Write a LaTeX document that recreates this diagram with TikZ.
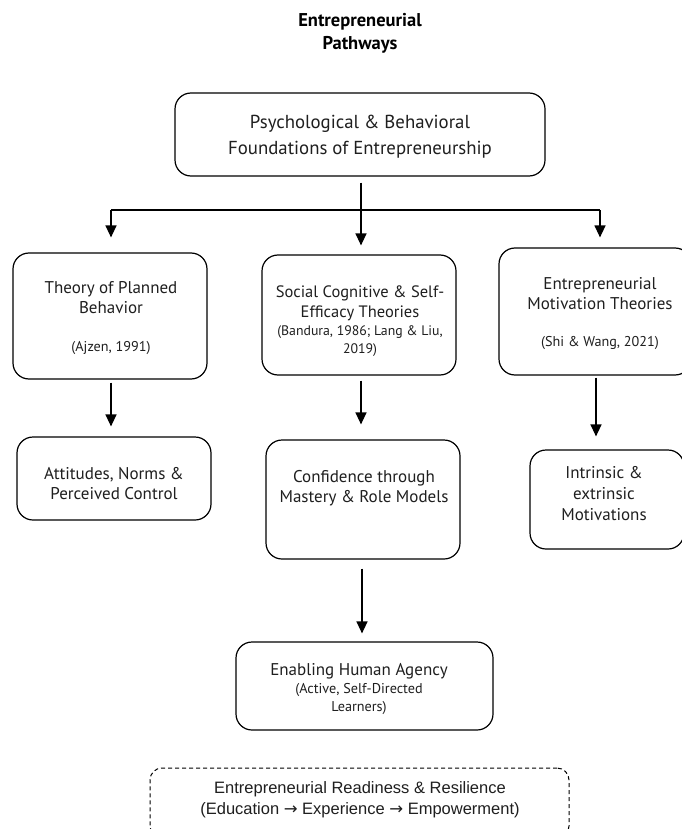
\documentclass[tikz,border=0pt]{standalone}
\usepackage{fontspec}
\setmainfont{PT Sans}
\newfontfamily\bottomfont{Liberation Sans}
\newfontfamily\arrowfont{DejaVu Sans}
\usetikzlibrary{arrows.meta}
\tikzset{
  box/.style={draw=black, line width=1.2pt, rounded corners=16pt, inner sep=0pt},
  dbox/.style={draw=black, line width=1pt, dashed, dash pattern=on 4pt off 3pt, rounded corners=12pt, inner sep=0pt},
  txt/.style={align=center, font=\fontsize{17}{20}\selectfont, text=black!88, inner sep=0pt},
  cite/.style={align=center, font=\fontsize{14.2}{18}\selectfont, text=black!88, inner sep=0pt},
  arr/.style={line width=1.3pt, -{Triangle[width=11pt,length=12pt]}},
  ln/.style={line width=1.3pt}
}
\begin{document}
\begin{tikzpicture}[x=1pt,y=-1pt]
\useasboundingbox (0,0) rectangle (681,829);
\fill[white] (0,0) rectangle (681,829);
% title
\node[align=center, font=\fontsize{18.5}{23}\bfseries\selectfont, inner sep=0pt] (title) at (360,33) {Entrepreneurial\\Pathways};
% top box
\node[box, minimum width=370pt, minimum height=83pt] (top) at (360,134.5) {};
\node[txt, font=\fontsize{18.8}{26}\selectfont] (toptxt) at (360,137) {Psychological \& Behavioral\\Foundations of Entrepreneurship};
% row 1
\node[box, minimum width=194pt, minimum height=126pt] (l1) at (110,316) {};
\node[txt] (l1t) at (111,298) {Theory of Planned\\Behavior};
\node[cite] (l1c) at (111,348) {(Ajzen, 1991)};
\node[box, minimum width=194pt, minimum height=120pt] (m1) at (359,315) {};
\node[txt, font=\fontsize{16.5}{20}\selectfont] (m1t) at (360,303) {Social Cognitive \& Self-\\Efficacy Theories};
\node[cite, font=\fontsize{13.8}{18}\selectfont] (m1c) at (360,341) {(Bandura, 1986; Lang \& Liu,\\2019)};
\node[box, minimum width=192pt, minimum height=127pt] (r1) at (595,311.5) {};
\node[txt] (r1t) at (600,294) {Entrepreneurial\\Motivation Theories};
\node[cite] (r1c) at (600,343) {(Shi \& Wang, 2021)};
% row 2
\node[box, minimum width=194pt, minimum height=83pt] (l2) at (114,478.5) {};
\node[txt] (l2t) at (114,484) {Attitudes, Norms \&\\Perceived Control};
\node[box, minimum width=194pt, minimum height=119pt] (m2) at (363,499.5) {};
\node[txt] (m2t) at (364,488) {Confidence through\\Mastery \& Role Models};
\node[box, minimum width=154pt, minimum height=99pt] (r2) at (607,499.5) {};
\node[txt, font=\fontsize{17}{21}\selectfont] (r2t) at (604,494) {Intrinsic \&\\extrinsic\\Motivations};
% row 3
\node[box, minimum width=257pt, minimum height=88pt] (b3) at (364.5,686) {};
\node[txt] (b3t) at (359,671) {Enabling Human Agency};
\node[cite] (b3c) at (359,699) {(Active, Self-Directed\\Learners)};
% dashed bottom
\node[dbox, minimum width=419pt, minimum height=70pt] (ready) at (359.5,803) {};
\node[align=center, font=\bottomfont\fontsize{16.5}{21}\selectfont, text=black!88, inner sep=0pt] (readyt) at (360,800) {Entrepreneurial Readiness \& Resilience\\(Education {\arrowfont →} Experience {\arrowfont →} Empowerment)};
% connectors
\coordinate (jc) at (361,210);
\coordinate (jl) at (111,210);
\coordinate (jr) at (600,210);
\draw[ln] (jl) -- (jr);
\draw[arr, shorten <=6pt, shorten >=9pt] (top.south -| jc) -- (jc |- m1.north);
\draw[arr, shorten >=15pt] (jl) -- (jl |- l1.north);
\draw[arr, shorten >=10pt] (jr) -- (jr |- r1.north);
\coordinate (a1) at (111,0);
\draw[arr, shorten <=3pt, shorten >=10pt] (a1 |- l1.south) -- (a1 |- l2.north);
\coordinate (a2) at (361,0);
\draw[arr, shorten <=5pt, shorten >=15pt] (a2 |- m1.south) -- (a2 |- m2.north);
\coordinate (a3) at (596,0);
\draw[arr, shorten <=2pt, shorten >=13pt] (a3 |- r1.south) -- (a3 |- r2.north);
\coordinate (a4) at (362,0);
\draw[arr, shorten <=9pt, shorten >=8pt] (a4 |- m2.south) -- (a4 |- b3.north);
\end{tikzpicture}
\end{document}
